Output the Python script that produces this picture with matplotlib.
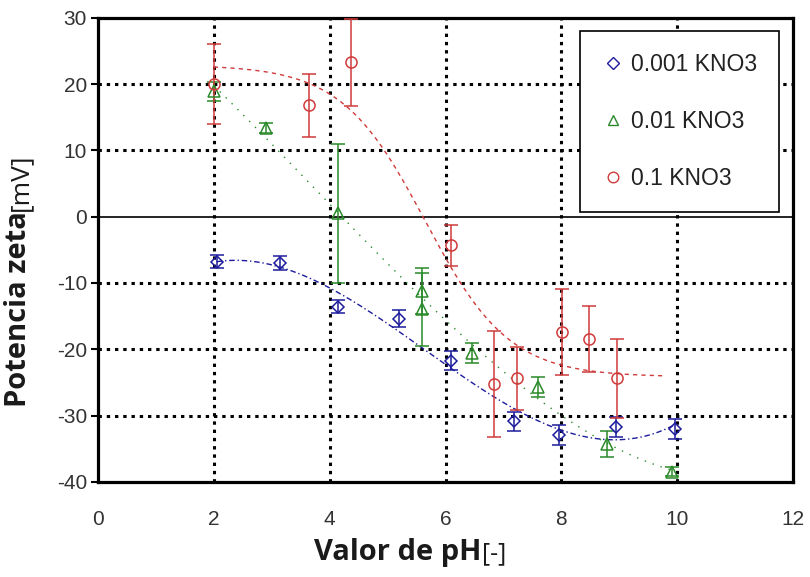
import numpy as np
import matplotlib.pyplot as plt
from matplotlib.lines import Line2D

# zeta potential vs pH for three KNO3 concentrations

ph_001 = [2.05, 3.15, 4.15, 5.19, 6.09, 7.18, 7.96, 8.94, 9.96]
zeta_001 = [-6.8, -7.0, -13.6, -15.4, -21.7, -30.9, -33.0, -31.7, -32.0]
err_001 = [1.0, 1.0, 1.0, 1.3, 1.5, 1.5, 1.5, 1.5, 1.5]

ph_01 = [2.0, 2.9, 4.15, 5.6, 5.6, 6.45, 7.6, 8.79, 9.91]
zeta_01 = [18.9, 13.4, 0.5, -11.2, -14.0, -20.6, -25.7, -34.3, -38.5]
err_01 = [1.5, 0.7, 10.5, 3.5, 5.5, 1.5, 1.5, 2.0, 0.7]

ph_1 = [2.0, 3.64, 4.37, 6.09, 6.83, 7.23, 8.01, 8.48, 8.96]
zeta_1 = [20.0, 16.8, 23.3, -4.3, -25.2, -24.4, -17.4, -18.4, -24.4]
err_1 = [6.0, 4.8, 6.6, 3.1, 8.0, 4.7, 6.5, 5.0, 6.0]

labels = ['0.001 KNO3', '0.01 KNO3', '0.1 KNO3']
colors = ['#1c1c9c', '#2a8a2a', '#cf3a3a']
markers = ['D', '^', 'o']
msizes = [6.5, 8, 8]
trend_styles = [(0, (4, 2, 1, 2)), (0, (1, 5)), (0, (3, 3))]
trend_kind = ['poly', 'poly', 'tanh']
trend_end = [None, None, 9.8]

series = [(ph_001, zeta_001, err_001), (ph_01, zeta_01, err_01), (ph_1, zeta_1, err_1)]

plt.rcParams['font.family'] = ['Liberation Sans Narrow', 'Liberation Sans', 'DejaVu Sans']
plt.rcParams['axes.unicode_minus'] = False


def fit_tanh(x, y):
    # y = a + b*tanh((x-c)/d), brute force over c, d with linear least squares for a, b
    x = np.asarray(x)
    y = np.asarray(y)
    best = None
    for c in np.linspace(4, 8, 81):
        for d in np.linspace(1.45, 3, 32):
            A = np.column_stack([np.ones_like(x), np.tanh((x - c) / d)])
            ab, *_ = np.linalg.lstsq(A, y, rcond=None)
            res = np.sum((A @ ab - y) ** 2)
            if best is None or res < best[0]:
                best = (res, ab[0], ab[1], c, d)
    _, a, b, c, d = best
    return lambda t: a + b * np.tanh((t - c) / d)


fig = plt.figure(figsize=(8.1, 5.77), dpi=100)
ax = fig.add_axes([0.121, 0.165, 0.858, 0.804])

ax.set_xlim(0, 12)
ax.set_ylim(-40, 30)
ax.set_xticks(range(0, 13, 2))
ax.set_yticks(range(-40, 31, 10))

# dotted grid, solid zero line
for gx in range(2, 12, 2):
    ax.axvline(gx, color='k', lw=2.2, ls=(0, (1.1, 1.6)), zorder=1)
for gy in [-30, -20, -10, 10, 20]:
    ax.axhline(gy, color='k', lw=2.2, ls=(0, (1.1, 1.6)), zorder=1)
ax.axhline(0, color='k', lw=1.2, zorder=1)

for (x, y, e), c, m, ms, tls, kind, xe in zip(series, colors, markers, msizes,
                                              trend_styles, trend_kind, trend_end):
    # trend line fitted to each series
    xs = np.linspace(min(x), xe or max(x), 200)
    if kind == 'poly':
        ys = np.polyval(np.polyfit(x, y, 3), xs)
    else:
        ys = fit_tanh(x, y)(xs)
    ax.plot(xs, ys, color=c, lw=1.0, ls=tls, zorder=2)
    ax.errorbar(x, y, yerr=e, fmt=m, ms=ms, mfc='none', mec=c, mew=1.1,
                ecolor=c, elinewidth=1.1, capsize=5, capthick=1.1, zorder=3)

for s in ax.spines.values():
    s.set_linewidth(2.3)
    s.set_color('k')

ax.tick_params(axis='y', direction='out', length=5, width=1.5, labelsize=15,
               labelcolor='#333333', pad=3)
ax.tick_params(axis='x', length=0, labelsize=15, labelcolor='#333333', pad=20)

handles = [Line2D([], [], marker=m, ls='none', mfc='none', mec=c, mew=1.0, ms=ms * 0.95)
           for m, c, ms in zip(markers, colors, msizes)]
leg = ax.legend(handles, labels, loc='upper left', bbox_to_anchor=(0.693, 0.972),
                fontsize=16.5, labelspacing=1.5, borderpad=0.95, handletextpad=0.3,
                handlelength=1.0, fancybox=False, framealpha=1, edgecolor='k',
                borderaxespad=0)
leg.get_frame().set_linewidth(1.2)
for t in leg.get_texts():
    t.set_color('#222222')

# axis labels: bold name + regular unit
fig.canvas.draw()
r = fig.canvas.get_renderer()
tx = fig.text(0, 0, 'Valor de pH', fontsize=21, fontweight='bold', family='Open Sans',
              color='#1a1a1a', va='baseline', ha='left')
bb = tx.get_window_extent(r)
ux = fig.text(0, 0, '[-]', fontsize=18, family='Open Sans', color='#1a1a1a',
              va='baseline', ha='left')
ub = ux.get_window_extent(r)
W, H = fig.bbox.width, fig.bbox.height
x0 = (410 - (bb.width + ub.width) / 2) / W
tx.set_position((x0, 1 - 560 / H))
ux.set_position((x0 + bb.width / W, 1 - 560 / H))

ty = fig.text(0, 0, 'Potencia zeta', fontsize=21, fontweight='bold', family='Open Sans',
              color='#1a1a1a', rotation=90, ha='left', va='bottom', rotation_mode='anchor')
tb = ty.get_window_extent(r)
uy = fig.text(0, 0, '[mV]', fontsize=19, family='Open Sans', color='#1a1a1a',
              rotation=90, ha='left', va='bottom', rotation_mode='anchor')
y0 = (577 - 407) / H
ty.set_position((33 / W, y0))
uy.set_position((33 / W, y0 + tb.height / H))

fig.savefig('out.png', dpi=100)
